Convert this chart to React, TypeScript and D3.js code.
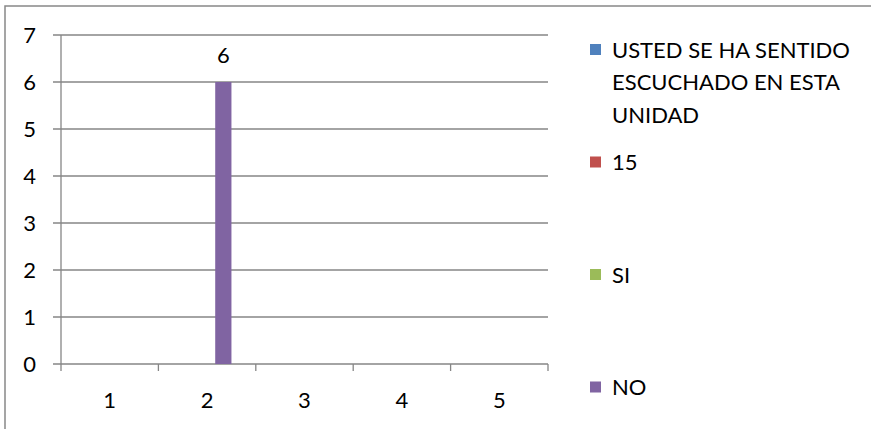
import React from "react";
import * as d3 from "d3";

const categories = ["1", "2", "3", "4", "5"];
const seriesNames = ["USTED SE HA SENTIDO ESCUCHADO EN ESTA UNIDAD", "15", "SI", "NO"];
const seriesColors = ["#4F81BD", "#C0504D", "#9BBB59", "#8064A2"];
const valuesUsted: (number | null)[] = [null, null, null, null, null];
const values15: (number | null)[] = [null, null, null, null, null];
const valuesSi: (number | null)[] = [null, null, null, null, null];
const valuesNo: (number | null)[] = [null, 6, null, null, null];
const yTicks = [0, 1, 2, 3, 4, 5, 6, 7];

const W = 871;
const H = 429;
const FONT = "Lato, 'Open Sans', sans-serif";
const FS = 22;

function wrap(text: string, maxW: number, font: string): string[] {
  const c = document.createElement("canvas").getContext("2d")!;
  c.font = font;
  const words = text.split(" ");
  const lines: string[] = [];
  let cur = "";
  for (const w of words) {
    const t = cur ? cur + " " + w : w;
    if (c.measureText(t).width > maxW && cur) {
      lines.push(cur);
      cur = w;
    } else cur = t;
  }
  if (cur) lines.push(cur);
  return lines;
}

export default function App() {
  const left = 61, right = 548, top = 35, bottom = 364;
  const y = d3.scaleLinear().domain([0, 7]).range([bottom, top]);
  const x = d3.scaleBand<string>().domain(categories).range([left, right]).padding(0);
  const slotNames = seriesNames.slice(1);
  const inner = d3.scaleBand<string>().domain(slotNames).range([0, x.bandwidth()]).paddingInner(0).paddingOuter(1.5);
  const seriesValues = [valuesUsted, values15, valuesSi, valuesNo];

  const legendX = 590;
  const legendTop = 50;
  const legendStep = 112.5;
  const lineH = 32.5;

  return (
    <svg width={W} height={H} style={{ position: "absolute", left: 0, top: 0, background: "#fff" }} fontFamily={FONT}>
      <rect x={0} y={0} width={W} height={H} fill="#fff" />
      <path d={`M5,${H + 2}V6H${W + 2}`} fill="none" stroke="#888" strokeWidth={1.5} />
      {yTicks.map((t) => (
        <g key={t}>
          <line x1={left - 8} x2={right} y1={y(t)} y2={y(t)} stroke="#868686" strokeWidth={1.3} />
          <text x={36} y={y(t)} dy="0.36em" textAnchor="end" fontSize={FS} fill="#000">{t}</text>
        </g>
      ))}
      <line x1={left} x2={left} y1={top} y2={bottom + 7} stroke="#868686" strokeWidth={1.3} />
      {categories.map((c) => (
        <g key={c}>
          <line x1={x(c)! + x.bandwidth()} x2={x(c)! + x.bandwidth()} y1={bottom} y2={bottom + 7} stroke="#868686" strokeWidth={1.3} />
          <text x={x(c)! + x.bandwidth() / 2} y={408} textAnchor="middle" fontSize={FS} fill="#000">{c}</text>
        </g>
      ))}
      {slotNames.map((s, si) => {
        const vals = seriesValues[si + 1];
        return vals.map((v, ci) =>
          v == null ? null : (
            <g key={s + ci}>
              <rect x={x(categories[ci])! + inner(s)!} width={inner.bandwidth()} y={y(v)} height={y(0) - y(v)} fill={seriesColors[si + 1]} />
              <text x={x(categories[ci])! + inner(s)! + inner.bandwidth() / 2} y={y(v) - 19} textAnchor="middle" fontSize={FS} fill="#000">{v}</text>
            </g>
          )
        );
      })}
      {seriesNames.map((n, i) => {
        const lines = wrap(n, 255, `${FS}px ${FONT}`);
        const cy = legendTop + i * legendStep;
        return (
          <g key={n}>
            <rect x={legendX} y={cy - 6} width={11} height={11} fill={seriesColors[i]} />
            {lines.map((l, j) => (
              <text key={j} x={legendX + 22} y={cy + j * lineH} dy="0.36em" fontSize={FS} fill="#000">{l}</text>
            ))}
          </g>
        );
      })}
    </svg>
  );
}
